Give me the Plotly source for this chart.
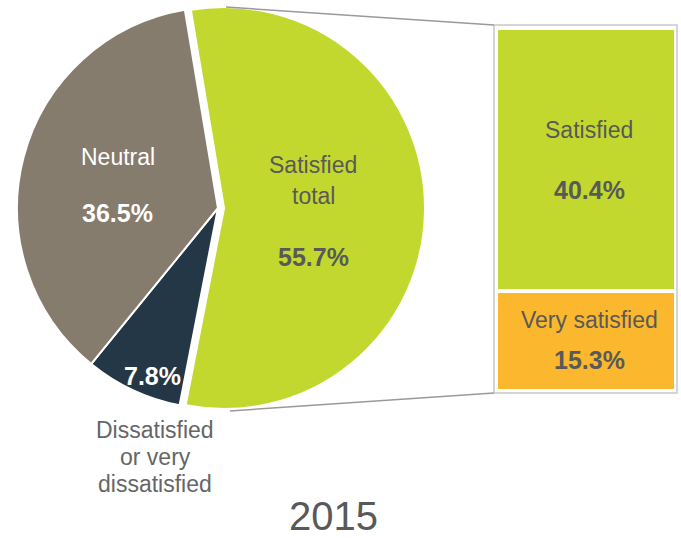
import plotly.graph_objects as go

# ---- data ----
pie_labels = ["Satisfied total", "Dissatisfied or very dissatisfied", "Neutral"]
pie_values = [55.7, 7.8, 36.5]
pie_colors = ["#c2d82f", "#243746", "#867c6e"]

bar_labels = ["Very satisfied", "Satisfied"]
bar_values = [15.3, 40.4]
bar_colors = ["#fbb82e", "#c2d82f"]

year_label = "2015"

FONT = "Liberation Sans, Arial, sans-serif"
TXT = "#595959"
W, H = 681, 538


def px(x):
    return x / W


def py(y):
    return (H - y) / H


fig = go.Figure()

fig.add_trace(go.Pie(
    labels=pie_labels, values=pie_values, sort=False, direction="clockwise",
    rotation=-9.5, pull=[0.03, 0, 0], textinfo="none", hoverinfo="label+value",
    marker=dict(colors=pie_colors, line=dict(color="white", width=2)),
    domain=dict(x=[px(11), px(425)], y=[py(415), py(1)]),
    showlegend=False,
))

fig.add_trace(go.Bar(
    x=["2015"], y=[bar_values[0]], marker=dict(color=bar_colors[0], line=dict(color="white", width=4)),
    name=bar_labels[0], xaxis="x", yaxis="y", showlegend=False, width=1,
))
fig.add_trace(go.Bar(
    x=["2015"], y=[bar_values[1]], marker=dict(color=bar_colors[1], line=dict(color="white", width=4)),
    name=bar_labels[1], xaxis="x", yaxis="y", showlegend=False, width=1,
))

total_bar = sum(bar_values)

annotations = []


def ann(text, x, y, size=23, color=TXT, bold=False):
    t = f"<b>{text}</b>" if bold else text
    annotations.append(dict(
        text=t, x=px(x), y=py(y), xref="paper", yref="paper",
        xanchor="center", yanchor="middle", showarrow=False,
        font=dict(family=FONT, size=size, color=color)))


# pie labels
ann("Satisfied", 313, 165)
ann("total", 313, 196)
ann(f"{pie_values[0]:.1f}%", 313, 257, size=25, bold=True)
ann(pie_labels[2], 118, 157, color="white")
ann(f"{pie_values[2]:.1f}%", 118, 213, size=25, color="white", bold=True)
ann(f"{pie_values[1]:.1f}%", 152, 376, size=25, color="white", bold=True)
ann("Dissatisfied", 155, 430, color="#666666")
ann("or very", 155, 457, color="#666666")
ann("dissatisfied", 155, 484, color="#666666")

# bar labels
ann(bar_labels[1], 589, 130)
ann(f"{bar_values[1]:.1f}%", 589, 190, size=25, bold=True)
ann(bar_labels[0], 589, 320)
ann(f"{bar_values[0]:.1f}%", 589, 360, size=25, bold=True)

# year
ann(year_label, 333, 516, size=40)

shapes = [
    # box around the bar
    dict(type="rect", xref="paper", yref="paper", x0=px(494), x1=px(677), y0=py(393), y1=py(25),
         line=dict(color="#c8c8c8", width=1.5), layer="below"),
    # connector lines
    dict(type="line", xref="paper", yref="paper", x0=px(226), y0=py(7), x1=px(494), y1=py(25),
         line=dict(color="#9a9a9a", width=1.5)),
    dict(type="line", xref="paper", yref="paper", x0=px(230), y0=py(411), x1=px(494), y1=py(393),
         line=dict(color="#9a9a9a", width=1.5)),
]

fig.update_layout(
    width=W, height=H, margin=dict(l=0, r=0, t=0, b=0),
    paper_bgcolor="white", plot_bgcolor="white",
    barmode="stack", bargap=0,
    xaxis=dict(domain=[px(496), px(676)], visible=False, range=[-0.5, 0.5], fixedrange=True),
    yaxis=dict(domain=[py(391), py(28)], visible=False, range=[0, total_bar], fixedrange=True),
    annotations=annotations, shapes=shapes,
    font=dict(family=FONT, color=TXT),
)

fig.write_html("out.html", config={"displayModeBar": False},
               post_script="document.body.style.margin='0';")
